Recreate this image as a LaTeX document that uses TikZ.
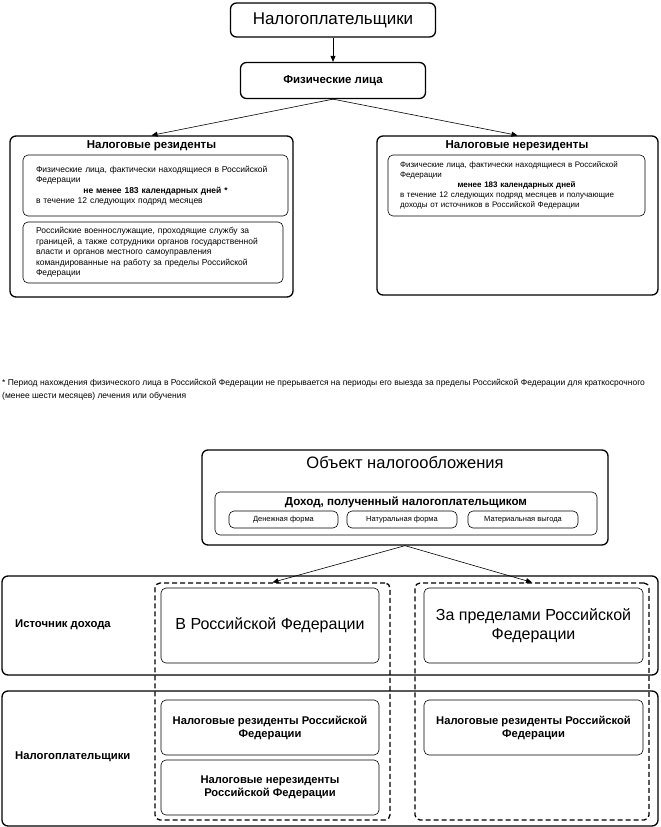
\documentclass[tikz,border=0pt]{standalone}
\usepackage{fontspec}
\setmainfont{Liberation Sans}
\usetikzlibrary{arrows.meta}
\newcommand{\fs}[2]{\fontsize{#1}{#2}\selectfont}

\begin{document}
\begin{tikzpicture}[x=1pt, y=-1pt,
bigbox/.style={draw, line width=1.3pt, rounded corners=6pt, fill=white, inner sep=0pt},
inbox/.style={draw, line width=0.6pt, rounded corners=5pt, fill=white, inner sep=0pt},
textbox/.style={inbox, align=left, inner xsep=13pt, font=\fs{8.5}{10.5}},
dashbox/.style={draw, line width=1.3pt, rounded corners=5pt, dash pattern=on 5pt off 3pt, inner sep=0pt},
rowlabel/.style={anchor=west, inner sep=0pt, font=\bfseries\fs{11.3}{13}},
arrow/.style={-{Triangle[length=6pt,width=5pt]}, line width=0.6pt}
]
\useasboundingbox (0,0) rectangle (661,827);

% upper part: who pays
\node[bigbox, minimum width=205pt, minimum height=34pt, font=\fs{17}{19}] (payers) at (333,20) {Налогоплательщики};
\node[bigbox, minimum width=185pt, minimum height=36pt, font=\bfseries\fs{11.5}{13}] (persons) at (333,80.5) {Физические лица};
\draw[arrow] (payers) -- (persons);

\node[bigbox, minimum width=283pt, minimum height=161pt] (res) at (151.5,216.5) {};
\node[inner sep=0pt, font=\bfseries\fs{11.5}{13}] (restitle) at (151.5,146) {Налоговые резиденты};
\node[textbox, text width=239pt, minimum height=61pt] (res1) at (155.5,185.5)
{Физические лица, фактически находящиеся в Российской\\Федерации\par
{\centering\bfseries не менее 183 календарных дней *\par}
в течение 12 следующих подряд месяцев};
\node[textbox, text width=234pt, minimum height=61pt] (res2) at (153,252.5)
{Российские военнослужащие, проходящие службу за\\границей, а также сотрудники органов государственной\\власти и органов местного самоуправления\\командированные на работу за пределы Российской\\Федерации};

\node[bigbox, minimum width=281pt, minimum height=159pt] (nonres) at (517.5,215.5) {};
\node[inner sep=0pt, font=\bfseries\fs{11.5}{13}] (nonrestitle) at (517,146) {Налоговые нерезиденты};
\node[textbox, inner xsep=12pt, text width=233pt, minimum height=61pt, font=\fs{8}{10}] (nonres1) at (516.5,185.5)
{Физические лица, фактически находящиеся в Российской\\Федерации\par
{\centering\bfseries менее 183 календарных дней\par}
в течение 12 следующих подряд месяцев и получающие\\доходы от источников в Российской Федерации};

\draw[arrow] (persons.south) -- (res.north);
\draw[arrow] (persons.south) -- (nonres.north);

% footnote
\node[anchor=north west, inner sep=0pt, align=left, font=\fs{8.5}{13}] (note) at (2,379)
{* Период нахождения физического лица в Российской Федерации не прерывается на периоды его выезда за пределы Российской Федерации для краткосрочного\\(менее шести месяцев) лечения или обучения};

% lower part: object of taxation
\node[bigbox, minimum width=406pt, minimum height=95pt] (object) at (405,497.5) {};
\node[inner sep=0pt, font=\fs{16.5}{19}] (objtitle) at (405,463) {Объект налогообложения};
\node[inbox, minimum width=382pt, minimum height=43pt] (income) at (406,513.5) {};
\node[inner sep=0pt, font=\bfseries\fs{11.6}{13}] (inctitle) at (406,502) {Доход, полученный налогоплательщиком};
\node[inbox, minimum width=109pt, minimum height=17pt, font=\fs{7.5}{9}] (cash) at (283.5,519.5) {Денежная форма};
\node[inbox, minimum width=110pt, minimum height=17pt, font=\fs{7.5}{9}] (kind) at (402,519.5) {Натуральная форма};
\node[inbox, minimum width=110pt, minimum height=17pt, font=\fs{7.5}{9}] (benefit) at (523,519.5) {Материальная выгода};

\node[bigbox, minimum width=656pt, minimum height=99pt] (srcrow) at (330,625.5) {};
\node[bigbox, minimum width=656pt, minimum height=135pt] (payrow) at (330,758.5) {};
\node[rowlabel] (srclabel) at (15,625) {Источник дохода};
\node[rowlabel] (paylabel) at (15,757) {Налогоплательщики};

\node[dashbox, minimum width=235pt, minimum height=237pt] (inrf) at (272.5,701.5) {};
\node[dashbox, minimum width=234pt, minimum height=237pt] (outrf) at (532,701.5) {};
\draw[arrow] (object.south) -- (inrf.north);
\draw[arrow] (object.south) -- (outrf.north);

\node[inbox, minimum width=218pt, minimum height=75pt, font=\fs{16}{19}] (srcin) at (270,625.5) {В Российской Федерации};
\node[inbox, minimum width=219pt, minimum height=75pt, align=center, font=\fs{16}{19}] (srcout) at (533.5,625.5) {За пределами Российской\\Федерации};
\node[inbox, minimum width=218pt, minimum height=55pt, align=center, font=\bfseries\fs{11.2}{13}] (resin) at (270,727.5) {Налоговые резиденты Российской\\Федерации};
\node[inbox, minimum width=218pt, minimum height=55pt, align=center, font=\bfseries\fs{11.2}{13}] (nonresin) at (270,787.5) {Налоговые нерезиденты\\Российской Федерации};
\node[inbox, minimum width=219pt, minimum height=55pt, align=center, font=\bfseries\fs{11.2}{13}] (resout) at (533.5,727.5) {Налоговые резиденты Российской\\Федерации};
\end{tikzpicture}
\end{document}
